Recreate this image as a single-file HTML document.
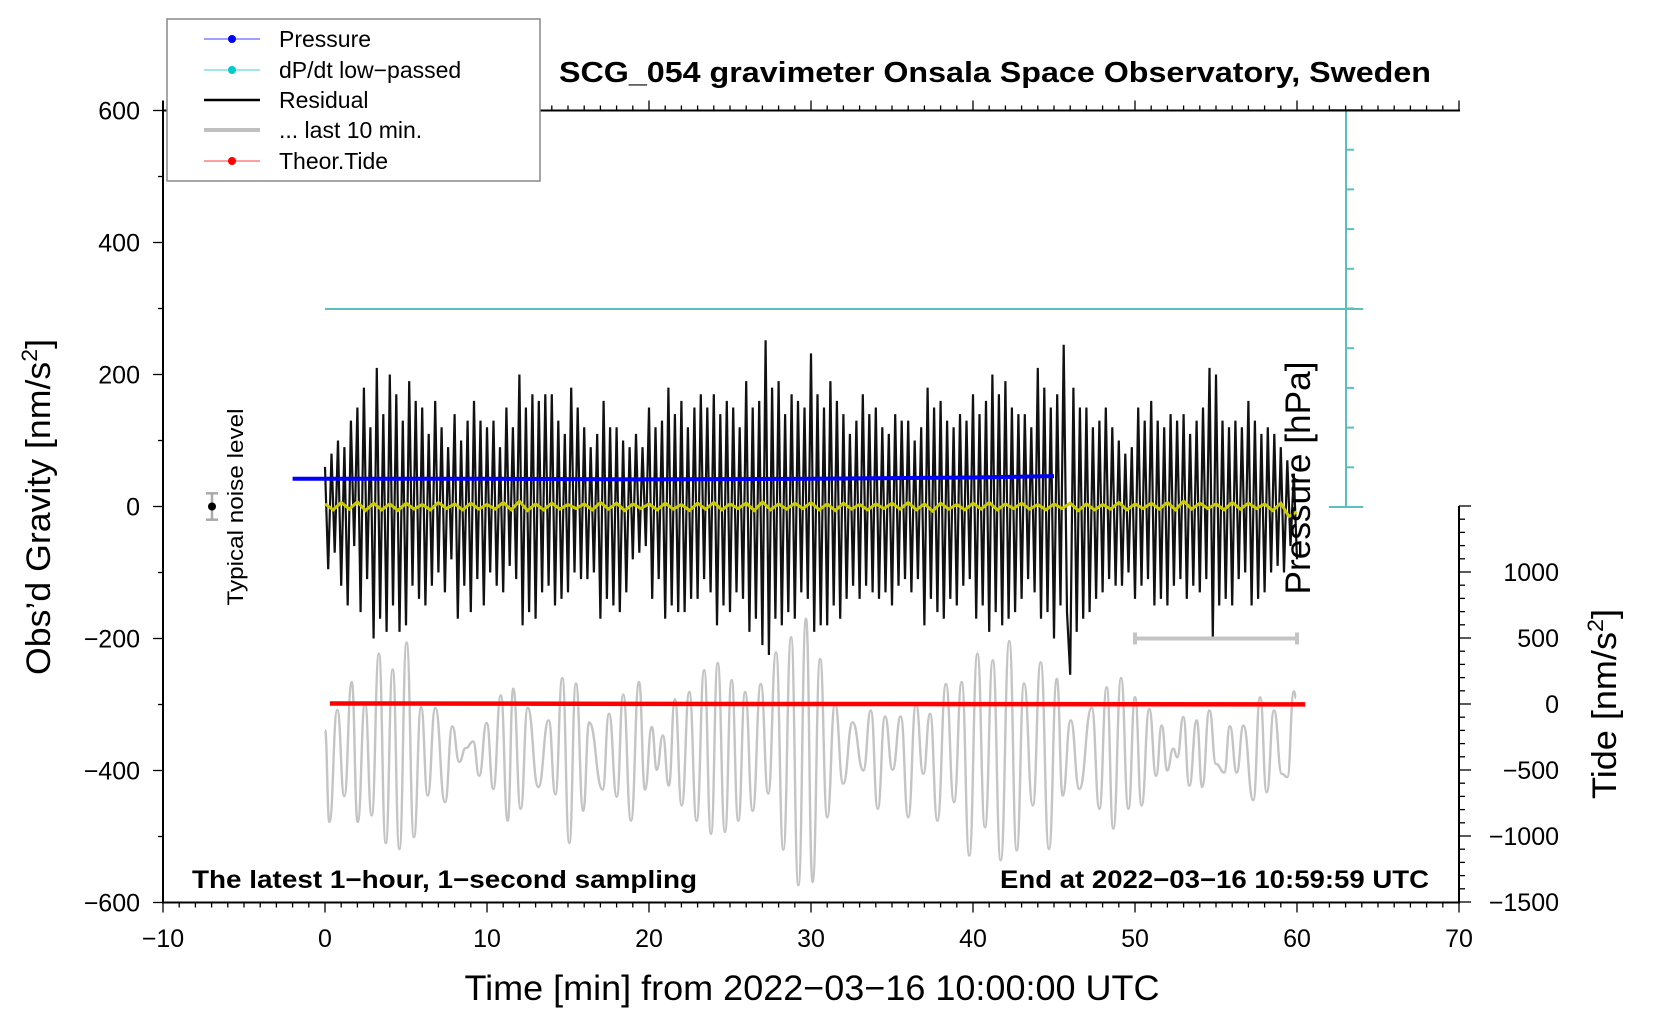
<!DOCTYPE html>
<html><head><meta charset="utf-8"><style>
html,body{margin:0;padding:0;background:#fff;}
svg{display:block;font-family:"Liberation Sans",Arial,sans-serif;}
</style></head><body>
<svg id="chart" width="1660" height="1020" viewBox="0 0 1660 1020">
<g id="marks"></g>
<g id="axes"></g>
<g id="labels">
<text x="995" y="82" font-size="29" font-weight="bold" text-anchor="middle" textLength="872" lengthAdjust="spacingAndGlyphs">SCG_054 gravimeter Onsala Space Observatory, Sweden</text>
<text x="192" y="888" font-size="25" font-weight="bold" textLength="505" lengthAdjust="spacingAndGlyphs">The latest 1−hour, 1−second sampling</text>
<text x="1429" y="888" font-size="25" font-weight="bold" text-anchor="end" textLength="429" lengthAdjust="spacingAndGlyphs">End at 2022−03−16 10:59:59 UTC</text>
<text x="812" y="1000" font-size="35" text-anchor="middle" textLength="695" lengthAdjust="spacingAndGlyphs">Time [min] from 2022−03−16 10:00:00 UTC</text>
<text transform="translate(50,507) rotate(-90)" font-size="34" text-anchor="middle" textLength="336" lengthAdjust="spacingAndGlyphs">Obs’d Gravity [nm/s<tspan font-size="22" dy="-13">2</tspan><tspan dy="13">]</tspan></text>
<text transform="translate(1616,704) rotate(-90)" font-size="34" text-anchor="middle" textLength="190" lengthAdjust="spacingAndGlyphs">Tide [nm/s<tspan font-size="22" dy="-13">2</tspan><tspan dy="13">]</tspan></text>
<text transform="translate(1310,478) rotate(-90)" font-size="35" text-anchor="middle" textLength="233" lengthAdjust="spacingAndGlyphs">Pressure [hPa]</text>
<text transform="translate(243,507) rotate(-90)" font-size="22" text-anchor="middle" textLength="197" lengthAdjust="spacingAndGlyphs">Typical noise level</text>
</g>
<g id="legend">
<rect x="167" y="19" width="373" height="162" fill="#fff" stroke="#888" stroke-width="1.5"/>
<g><line x1="204" y1="39" x2="260" y2="39" stroke="#4040ff" stroke-width="1"/><circle cx="232" cy="39" r="4" fill="#0000ff"/><text x="279" y="47" font-size="23">Pressure</text></g>
<g><line x1="204" y1="70" x2="260" y2="70" stroke="#40d0d0" stroke-width="1"/><circle cx="232" cy="70" r="4" fill="#00cccc"/><text x="279" y="78" font-size="23">dP/dt low−passed</text></g>
<g><line x1="204" y1="100" x2="260" y2="100" stroke="#000" stroke-width="2.5"/><text x="279" y="108" font-size="23">Residual</text></g>
<g><line x1="204" y1="130" x2="260" y2="130" stroke="#c0c0c0" stroke-width="4"/><text x="279" y="138" font-size="23">... last 10 min.</text></g>
<g><line x1="204" y1="161" x2="260" y2="161" stroke="#ff4040" stroke-width="1"/><circle cx="232" cy="161" r="4" fill="#ff0000"/><text x="279" y="169" font-size="23">Theor.Tide</text></g>
</g>
</svg>
<script>
// ---- data ----
const xTicks = [-10,0,10,20,30,40,50,60,70];
const yTicks = [-600,-400,-200,0,200,400,600];
const tideTicks = [-1500,-1000,-500,0,500,1000];
const residualStep = 0.2;
const residualVals = [
60,-95,80,-70,100, -120,90,-150,130,-60, 150,-160,180,-110,120, -200,210,-170,140,-190,
200,-150,170,-190,130, -180,190,-120,160,-140, 150,-150,110,-120,160, -100,120,-130,90,-80,
140,-170,100,-120,130, -160,160,-110,130,-150, 120,-100,130,-120,90, -130,150,-90,120,-110,
200,-180,150,-160,170, -170,160,-130,170,-120, 170,-150,130,-140,110, -130,180,-100,150,-110,
120,-110,90,-100,110, -170,160,-140,120,-150, 120,-160,100,-130,90, -80,110,-70,90,-60,
150,-140,120,-110,130, -170,180,-150,140,-160, 160,-160,120,-140,150, -140,170,-110,150,-130,
170,-180,140,-150,160, -160,150,-130,120,-140, 190,-190,150,-170,160, -210,252,-225,180,-170,
190,-180,140,-160,170, -170,160,-130,150,-140, 232,-190,170,-180,150, -180,190,-150,160,-170,
140,-140,110,-120,130, -140,170,-120,140,-130, 150,-140,120,-130,110, -150,140,-120,130,-110,
130,-130,100,-110,120, -180,180,-140,150,-160, 160,-170,130,-140,120, -150,140,-120,130,-110,
170,-170,140,-150,160, -190,200,-160,170,-180, 190,-170,150,-160,140, -140,140,-110,120,-130,
210,-170,180,-160,150, -200,170,-150,245,-160, -255,180,-190,150,-170, 150,-160,120,-140,130,
-130,150,-110,120,-120, 100,-120,80,-100,90, -140,150,-120,130,-110, 160,-150,130,-140,120,
-150,140,-120,130,-110, 140,-140,110,-120,130, -130,150,-110,210,-200, 200,-150,130,-140,120,
-150,130,-110,120,-100, 160,-150,130,-140,110, -130,120,-100,110,-90, 90,-100,70,-60,50, -80];
const yellowStep = 0.5;
const yellowVals = [
4,-5,6,-4,7,-6,5,-5,4,-6,5,-4,3,-5,6,-3,4,-5,5,-4,
3,-4,6,-5,8,-6,4,-5,5,-4,3,-3,4,-5,6,-4,5,-6,4,-3,
4,-5,5,-4,3,-6,5,-4,6,-5,4,-3,5,-6,7,-5,4,-4,5,-3,
6,-5,4,-6,5,-4,3,-5,4,-3,5,-4,6,-5,4,-7,5,-4,3,-5,
5,-4,6,-5,4,-3,5,-4,3,-5,4,-3,5,-6,4,-5,3,-4,6,-5,
4,-3,5,-4,6,-5,8,-4,5,-3,4,-5,6,-4,5,-3,4,-6,5,-15,-8];
const grayTimes = [0,0.27,0.76,1.19,1.65,2.02,2.47,2.88,3.33,3.75,4.18,4.59,5.04,5.49,5.93,6.34,6.81,7.41,7.86,8.29,8.69,9.15,9.52,9.98,10.39,10.85,11.28,11.62,12.08,12.51,13.17,13.81,14.22,14.65,15.08,15.49,15.94,16.31,17.14,17.53,18.01,18.41,18.89,19.38,19.75,20.17,20.48,20.85,21.22,21.6,22.02,22.49,22.94,23.41,23.83,24.24,24.69,25.1,25.51,25.93,26.4,26.9,27.36,27.84,28.29,28.77,29.22,29.69,30.1,30.56,31.0,31.48,31.99,32.57,33.23,33.69,34.12,34.57,35.04,35.54,36.0,36.48,36.93,37.35,37.8,38.33,38.83,39.3,39.77,40.27,40.74,41.22,41.71,42.24,42.7,43.15,43.69,44.18,44.69,45.17,45.54,46.03,46.56,47.33,47.8,48.25,48.66,49.14,49.59,50.0,50.41,50.88,51.3,51.65,51.99,52.36,52.61,52.98,53.35,53.81,54.15,54.59,55.0,55.51,55.86,56.28,56.69,57.3,57.72,58.13,58.58,59.06,59.4,59.81,59.94];
const grayVals = [-339,-478,-308,-439,-266,-478,-297,-468,-223,-510,-247,-519,-206,-501,-304,-438,-305,-448,-333,-387,-366,-356,-408,-328,-428,-286,-476,-276,-458,-305,-425,-324,-436,-260,-510,-268,-461,-327,-429,-314,-440,-285,-476,-266,-429,-334,-399,-347,-423,-292,-453,-281,-476,-248,-496,-237,-493,-263,-476,-281,-461,-269,-435,-221,-520,-198,-574,-170,-569,-231,-471,-299,-420,-327,-400,-309,-458,-318,-399,-318,-471,-299,-405,-314,-476,-269,-448,-266,-529,-223,-486,-233,-536,-204,-521,-268,-453,-236,-519,-261,-438,-324,-428,-305,-458,-274,-488,-260,-458,-289,-453,-307,-408,-332,-400,-367,-380,-319,-423,-324,-425,-309,-390,-403,-333,-403,-332,-445,-289,-433,-309,-405,-410,-280,-290];
const pressTimes = [-2,10,20,30,40,45];
const pressVals = [42,42,41,42,44,46];
const tideTimes = [0.3,10,20,30,40,50,60.5];
const tideVals = [4,3,1,0,-1,-2,-3];
const noiseLevel = 20;
const windowStart = 50, windowEnd = 60, windowLevel = -200;

// ---- scales ----
const X0 = 325, XK = 16.2;
function sx(t){ return X0 + XK*t; }
function sy(v){ return 506.5 - v*0.66; }
function st(v){ return 704 - v*0.132; }
const NS = 'http://www.w3.org/2000/svg';
function mk(tag, attrs, parent){ const e=document.createElementNS(NS,tag); for(const k in attrs) e.setAttribute(k,attrs[k]); parent.appendChild(e); return e; }
const marks = document.getElementById('marks');
const axes = document.getElementById('axes');

// gray last-10-min curve (smooth through extrema)
let d = 'M'+sx(grayTimes[0]).toFixed(1)+','+sy(grayVals[0]).toFixed(1);
for(let i=1;i<grayTimes.length;i++){
  const x0=sx(grayTimes[i-1]), y0=sy(grayVals[i-1]), x1=sx(grayTimes[i]), y1=sy(grayVals[i]);
  const h=(x1-x0)/2;
  d += ' C'+(x0+h).toFixed(1)+','+y0.toFixed(1)+' '+(x1-h).toFixed(1)+','+y1.toFixed(1)+' '+x1.toFixed(1)+','+y1.toFixed(1);
}
const gp = mk('path',{d:d,fill:'none',stroke:'#c4c4c4','stroke-width':2.4},marks);



// pressure axis (cyan)
const cy = mk('g',{stroke:'#5cbfbf','stroke-width':2},marks);


mk('line',{x1:1346,y1:110,x2:1346,y2:507},cy);
mk('line',{x1:sx(0),y1:309,x2:1363,y2:309},cy);
mk('line',{x1:1329,y1:507,x2:1363,y2:507},cy);
mk('line',{x1:1329,y1:110,x2:1363,y2:110},cy);
for(let i=1;i<10;i++){ mk('line',{x1:1346,y1:110+i*39.7,x2:1354,y2:110+i*39.7},cy); }

// residual
let pts = residualVals.map((v,i)=> sx(i*residualStep).toFixed(1)+','+sy(v).toFixed(1)).join(' ');
const rl = mk('polyline',{points:pts,fill:'none',stroke:'#111','stroke-width':2.2,'stroke-linejoin':'bevel'},marks);



// pressure
pts = pressTimes.map((t,i)=> sx(t).toFixed(1)+','+sy(pressVals[i]).toFixed(1)).join(' ');
const pl = mk('polyline',{points:pts,fill:'none',stroke:'#0000ff','stroke-width':4},marks);



// yellow trace
pts = yellowVals.map((v,i)=> sx(i*yellowStep).toFixed(1)+','+sy(v).toFixed(1)).join(' ');
const yl = mk('polyline',{points:pts,fill:'none',stroke:'#cccc00','stroke-width':3},marks);



// tide
pts = tideTimes.map((t,i)=> sx(t).toFixed(1)+','+st(tideVals[i]).toFixed(1)).join(' ');
const tl = mk('polyline',{points:pts,fill:'none',stroke:'#ff0000','stroke-width':4.5},marks);



// window bar
const wb = mk('g',{stroke:'#c4c4c4','stroke-width':4},marks);


mk('line',{x1:sx(windowStart),y1:sy(windowLevel),x2:sx(windowEnd),y2:sy(windowLevel)},wb);
mk('line',{x1:sx(windowStart),y1:sy(windowLevel)-6,x2:sx(windowStart),y2:sy(windowLevel)+6},wb);
mk('line',{x1:sx(windowEnd),y1:sy(windowLevel)-6,x2:sx(windowEnd),y2:sy(windowLevel)+6},wb);

// noise error bar
const nb = mk('g',{stroke:'#aaa','stroke-width':2.5},marks);


mk('line',{x1:212,y1:sy(noiseLevel),x2:212,y2:sy(-noiseLevel)},nb);
mk('line',{x1:206,y1:sy(noiseLevel),x2:218,y2:sy(noiseLevel)},nb);
mk('line',{x1:206,y1:sy(-noiseLevel),x2:218,y2:sy(-noiseLevel)},nb);
const nd = mk('circle',{cx:212,cy:sy(0),r:4,fill:'#000'},marks);



// axes
const ax = mk('g',{stroke:'#000','stroke-width':2},axes);


const xL=sx(-10), xR=sx(70), yT=sy(600), yB=sy(-600);
mk('line',{x1:xL,y1:yT-10,x2:xL,y2:yB+1},ax);
mk('line',{x1:xL-1,y1:yB,x2:xR+1,y2:yB},ax);
mk('line',{x1:xL,y1:yT,x2:xR+1,y2:yT},ax);
mk('line',{x1:xR,y1:st(1500),x2:xR,y2:yB},ax);
const tk = mk('g',{stroke:'#000','stroke-width':1.3},axes);
for(let m=-10;m<=70;m++){
  const L = (m%10===0)?10:5;
  mk('line',{x1:sx(m),y1:yB,x2:sx(m),y2:yB+L},tk);
  mk('line',{x1:sx(m),y1:yT,x2:sx(m),y2:yT-L},tk);
}
for(let v=-600;v<=600;v+=100){ const L=(v%200===0)?10:5; mk('line',{x1:xL,y1:sy(v),x2:xL-L,y2:sy(v)},tk); }
for(let v=-1500;v<=1500;v+=100){ const L=(v%500===0)?12:6; mk('line',{x1:xR,y1:st(v),x2:xR+L,y2:st(v)},tk); }

const lab = document.getElementById('labels');
xTicks.forEach(t=>{
  const e = mk('text',{x:sx(t),y:947,'font-size':25,'text-anchor':'middle'},lab);
  e.textContent = String(t).replace('-','\u2212');
  
  
});
yTicks.forEach(v=>{
  const e = mk('text',{x:140,y:sy(v)+9,'font-size':25,'text-anchor':'end'},lab);
  e.textContent = String(v).replace('-','\u2212');
  
  
});
tideTicks.forEach(v=>{
  const e = mk('text',{x:1559,y:st(v)+9,'font-size':25,'text-anchor':'end'},lab);
  e.textContent = String(v).replace('-','\u2212');
  
  
});
</script>
</body></html>
